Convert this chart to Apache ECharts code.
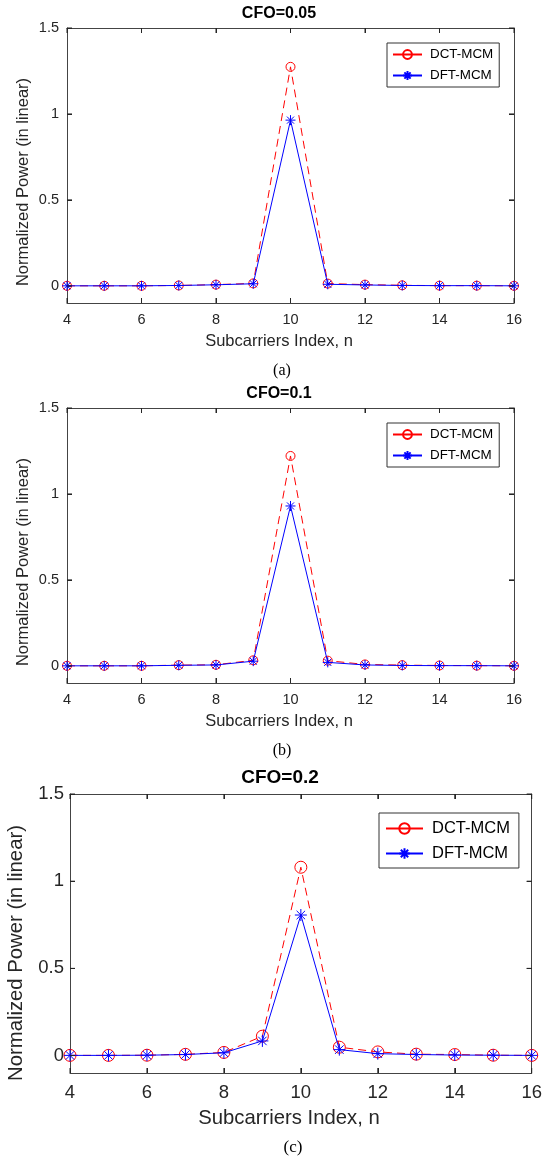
<!DOCTYPE html>
<html>
<head>
<meta charset="utf-8">
<script src="https://cdn.jsdelivr.net/npm/echarts@6/dist/echarts.min.js"></script>
<style>
html,body{margin:0;padding:0;background:#fff;}
#wrap{position:relative;width:545px;height:1161px;}
.pn{position:absolute;left:0;width:545px;}
</style>
</head>
<body>
<div id="wrap">
  <div id="pa" class="pn" style="top:0;height:380px;"></div>
  <div id="pb" class="pn" style="top:380px;height:380px;"></div>
  <div id="pc" class="pn" style="top:760px;height:401px;"></div>
</div>
<script>
// ---- data ----
const subcarriers = [4, 5, 6, 7, 8, 9, 10, 11, 12, 13, 14, 15, 16];
const dctA = [0.000, 0.000, 0.000, 0.002, 0.007, 0.014, 1.274, 0.013, 0.007, 0.003, 0.001, 0.001, 0.000];
const dftA = [0.000, 0.000, 0.000, 0.002, 0.006, 0.012, 0.964, 0.009, 0.005, 0.002, 0.001, 0.001, 0.000];
const dctB = [0.000, 0.000, 0.000, 0.004, 0.006, 0.032, 1.221, 0.030, 0.008, 0.004, 0.002, 0.001, 0.000];
const dftB = [0.000, 0.000, 0.000, 0.003, 0.005, 0.027, 0.930, 0.020, 0.005, 0.002, 0.001, 0.001, 0.000];
const dctC = [0.001, 0.001, 0.002, 0.007, 0.018, 0.111, 1.080, 0.048, 0.021, 0.008, 0.006, 0.002, 0.001];
const dftC = [0.001, 0.001, 0.002, 0.006, 0.016, 0.084, 0.806, 0.034, 0.011, 0.006, 0.003, 0.002, 0.001];
const xTicks = [4, 6, 8, 10, 12, 14, 16];
const yTicks = [0, 0.5, 1, 1.5];
const seriesNames = ['DCT-MCM', 'DFT-MCM'];
const titles = ['CFO=0.05', 'CFO=0.1', 'CFO=0.2'];
const captions = ['(a)', '(b)', '(c)'];
const xName = 'Subcarriers Index, n';
const yName = 'Normalized Power (in linear)';

const SANS = '"Liberation Sans", Arial, Helvetica, sans-serif';
const SERIF = '"Liberation Serif", "Times New Roman", serif';
const ASTER = 'path://M5,0L5,10M0,5L10,5M1.46,1.46L8.54,8.54M8.54,1.46L1.46,8.54';
const X_MIN = 4, X_MAX = 16, Y_MIN = -0.1, Y_MAX = 1.5;

function pairs(ys) { return subcarriers.map((x, i) => [x, ys[i]]); }

function build(id, L, title, caption, dct, dft) {
  const chart = echarts.init(document.getElementById(id), null, { renderer: 'canvas' });
  const axCol = '#444';
  const TL = L.tickLen;
  const line = { show: true, onZero: false, lineStyle: { color: axCol, width: 1 } };
  const xTick = { show: true, inside: true, length: TL, lineStyle: { color: '#262626', width: 1 } };
  const yTick = { show: true, inside: true, length: TL, customValues: yTicks,
    lineStyle: { color: '#262626', width: 1 } };
  const xBase = { type: 'value', min: X_MIN, max: X_MAX, interval: 2, gridIndex: 0,
    axisLine: line, splitLine: { show: false }, axisTick: xTick };
  const yBase = { type: 'value', min: Y_MIN, max: Y_MAX, gridIndex: 0,
    axisLine: line, splitLine: { show: false }, axisTick: yTick };
  const tickPath = (pts) => ({ type: 'polyline', shape: { points: pts },
    style: { stroke: '#262626', lineWidth: 1, fill: null } });
  chart.setOption({
    animation: false,
    grid: { left: L.left, right: L.right, top: L.top, height: L.height, show: false },
    xAxis: [
      Object.assign({}, xBase, { position: 'bottom',
        axisLabel: { margin: L.xMargin, fontFamily: SANS, fontSize: L.tickFont, color: '#262626' } }),
      Object.assign({}, xBase, { position: 'top', axisLabel: { show: false } })
    ],
    yAxis: [
      Object.assign({}, yBase, { position: 'left',
        axisLabel: { customValues: yTicks, margin: L.yMargin, fontFamily: SANS, fontSize: L.tickFont, color: '#262626' } }),
      Object.assign({}, yBase, { position: 'right', axisLabel: { show: false } })
    ],
    legend: {
      orient: 'vertical', left: L.legLeft, top: L.legTop,
      backgroundColor: '#fff', borderColor: '#333', borderWidth: 1,
      padding: L.legPad, itemWidth: L.legIconW, itemHeight: L.legItemH, itemGap: L.legGap,
      textStyle: { fontFamily: SANS, fontSize: L.legFont, color: '#000', padding: [0, 0, 0, L.legTextPad] },
      data: [
        { name: seriesNames[0], lineStyle: { type: 'solid' } },
        { name: seriesNames[1] }
      ]
    },
    series: [
      { type: 'custom', silent: true, z: 10, clip: false,
        data: xTicks.map(v => [v, 0.5]), encode: { x: 0, y: 1 },
        renderItem: function (p, api) {
          const x = api.value(0);
          const b = api.coord([x, Y_MIN]);
          const t = api.coord([x, Y_MAX]);
          return { type: 'group', children: [
            tickPath([[b[0], b[1]], [b[0], b[1] - TL]]),
            tickPath([[t[0], t[1]], [t[0], t[1] + TL]])
          ] };
        } },
      { type: 'custom', silent: true, z: 10, clip: false,
        data: yTicks.map(v => [10, v]), encode: { x: 0, y: 1 },
        renderItem: function (p, api) {
          const y = api.value(1);
          const l = api.coord([X_MIN, y]);
          const r = api.coord([X_MAX, y]);
          return { type: 'group', children: [
            tickPath([[l[0], l[1]], [l[0] + TL, l[1]]]),
            tickPath([[r[0], r[1]], [r[0] - TL, r[1]]])
          ] };
        } },
      { name: seriesNames[0], type: 'line', data: pairs(dct),
        symbol: 'circle', symbolSize: L.circ,
        lineStyle: { color: '#ff0000', width: 1, type: [8, 5] },
        itemStyle: { color: 'rgba(0,0,0,0)', borderColor: '#ff0000', borderWidth: 1 },
        z: 2 },
      { name: seriesNames[1], type: 'line', data: pairs(dft),
        symbol: ASTER, symbolSize: L.ast,
        lineStyle: { color: '#0000ff', width: 1 },
        itemStyle: { color: 'rgba(0,0,0,0)', borderColor: '#0000ff', borderWidth: 1 },
        z: 3 }
    ],
    graphic: [
      { type: 'text', x: L.titleX, y: L.titleY, silent: true,
        style: { text: title, font: 'bold ' + L.titleFont + 'px ' + SANS, fill: '#000', align: 'center', verticalAlign: 'middle' } },
      { type: 'text', x: L.xNameX, y: L.xNameY, silent: true,
        style: { text: xName, font: L.nameFont + 'px ' + SANS, fill: '#262626', align: 'center', verticalAlign: 'middle' } },
      { type: 'text', x: L.yNameX, y: L.yNameY, rotation: Math.PI / 2, silent: true,
        style: { text: yName, font: L.nameFont + 'px ' + SANS, fill: '#262626', align: 'center', verticalAlign: 'middle' } },
      { type: 'text', x: L.capX, y: L.capY, silent: true,
        style: { text: caption, font: L.capFont + 'px ' + SERIF, fill: '#000', align: 'center', verticalAlign: 'middle' } }
    ]
  });
}

const layAB = { left: 67, right: 31, top: 28, height: 275, tickLen: 5,
  tickFont: 14.5, xMargin: 9, yMargin: 8, nameFont: 16.5, titleFont: 16, capFont: 16,
  titleX: 279, titleY: 14, xNameX: 279, xNameY: 341, yNameX: 23, yNameY: 182, capX: 282, capY: 371,
  legLeft: 387, legTop: 43, legPad: [5, 6, 5, 5], legIconW: 29, legItemH: 11, legGap: 8, legFont: 13.4, legTextPad: 3,
  circ: 9, ast: 10 };
const layC = { left: 70, right: 8, top: 34, height: 279, tickLen: 5,
  tickFont: 18.5, xMargin: 10, yMargin: 6, nameFont: 20.3, titleFont: 19, capFont: 17,
  titleX: 280, titleY: 18, xNameX: 289, xNameY: 358, yNameX: 16, yNameY: 193, capX: 293, capY: 388,
  legLeft: 379, legTop: 53, legPad: [7, 9, 6, 6], legIconW: 37, legItemH: 13, legGap: 8, legFont: 16.5, legTextPad: 4,
  circ: 12, ast: 12 };

build('pa', layAB, titles[0], captions[0], dctA, dftA);
build('pb', layAB, titles[1], captions[1], dctB, dftB);
build('pc', layC, titles[2], captions[2], dctC, dftC);
</script>
</body>
</html>
